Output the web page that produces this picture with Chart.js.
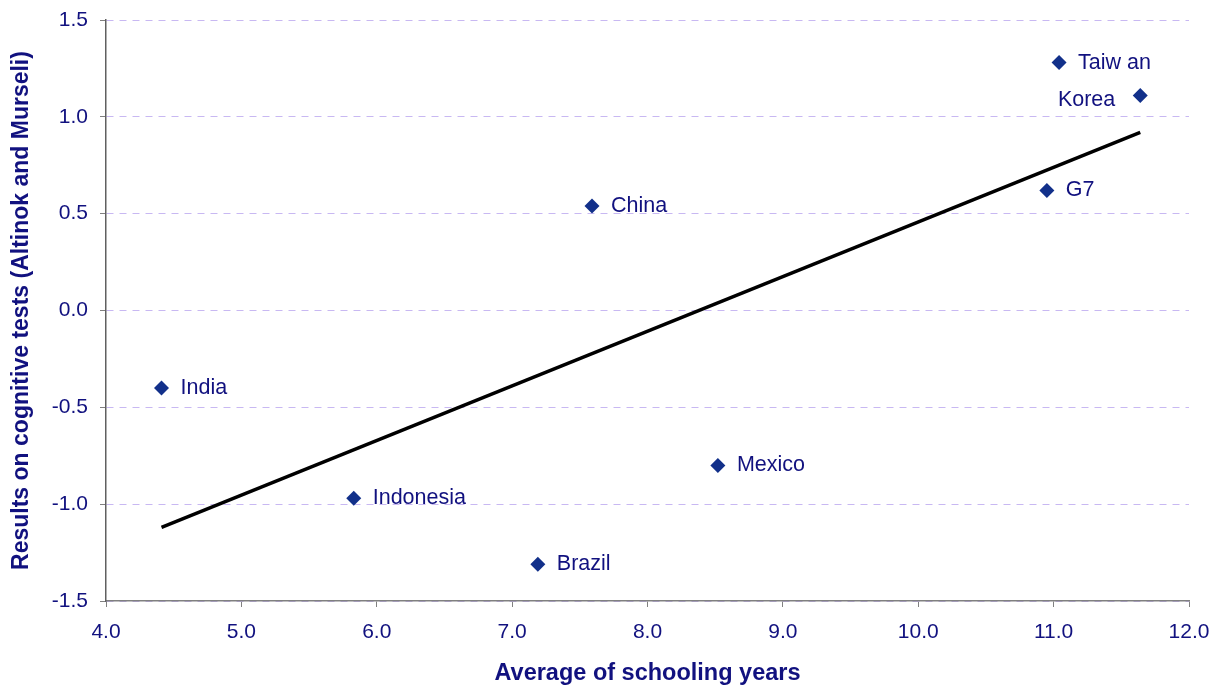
<!DOCTYPE html>
<html>
<head>
<meta charset="utf-8">
<script src="https://cdn.jsdelivr.net/npm/chart.js@4"></script>
<style>
  html, body { margin: 0; padding: 0; background: #fff; }
  canvas { display: block; }
</style>
</head>
<body>
<canvas id="scatterChart" width="1214" height="688"></canvas>
<script>
const countries = ['India', 'Indonesia', 'Brazil', 'China', 'Mexico', 'G7', 'Taiw an', 'Korea'];
const schoolingYears = [4.41, 5.83, 7.19, 7.59, 8.52, 10.95, 11.04, 11.64];
const testResults = [-0.40, -0.97, -1.31, 0.54, -0.80, 0.62, 1.28, 1.11];
const trendX = [4.41, 11.64];
const trendY = [-1.12, 0.92];

const navy = '#11117f';
const markerColor = '#12308a';
const font = 'Arial, "Liberation Sans", sans-serif';

// country names next to the markers, Korea sits on the left
const pointLabels = {
  id: 'pointLabels',
  afterDatasetsDraw(chart) {
    const ctx = chart.ctx;
    const meta = chart.getDatasetMeta(0);
    ctx.save();
    ctx.font = '21.5px ' + font;
    ctx.fillStyle = navy;
    ctx.textBaseline = 'middle';
    meta.data.forEach((pt, i) => {
      if (countries[i] === 'Korea') {
        ctx.textAlign = 'right';
        ctx.fillText(countries[i], pt.x - 25, pt.y + 5);
      } else {
        ctx.textAlign = 'left';
        ctx.fillText(countries[i], pt.x + 19, pt.y);
      }
    });
    ctx.restore();
  }
};

const ctx = document.getElementById('scatterChart').getContext('2d');

new Chart(ctx, {
  type: 'scatter',
  data: {
    datasets: [
      {
        data: schoolingYears.map((x, i) => ({ x: x, y: testResults[i] })),
        pointStyle: 'rectRot',
        pointRadius: 7.5,
        backgroundColor: markerColor,
        borderColor: markerColor,
        borderWidth: 0,
      },
      {
        type: 'line',
        data: trendX.map((x, i) => ({ x: x, y: trendY[i] })),
        borderColor: '#000',
        borderWidth: 3.5,
        pointRadius: 0,
        fill: false,
      },
    ],
  },
  options: {
    responsive: false,
    animation: false,
    layout: { padding: { top: 20, right: 25, left: 0, bottom: 0 } },
    plugins: {
      legend: { display: false },
      tooltip: { enabled: false },
    },
    scales: {
      x: {
        type: 'linear',
        min: 4,
        max: 12,
        afterFit(scale) {
          scale.height = 87;
          scale.paddingLeft = 0;
          scale.paddingRight = 0;
        },
        ticks: {
          stepSize: 1,
          color: navy,
          padding: 13,
          font: { family: font, size: 21 },
          callback: v => v.toFixed(1),
        },
        grid: {
          drawOnChartArea: false,
          tickLength: 6,
          tickColor: '#808080',
        },
        border: { color: '#808080', width: 1.5 },
        title: {
          display: true,
          text: 'Average of schooling years',
          color: navy,
          font: { family: font, size: 23.5, weight: 'bold' },
          padding: { top: 0, bottom: 0 },
        },
      },
      y: {
        min: -1.5,
        max: 1.5,
        afterFit(scale) {
          scale.width = 106;
          scale.paddingTop = 0;
          scale.paddingBottom = 0;
        },
        ticks: {
          stepSize: 0.5,
          color: navy,
          padding: 12,
          font: { family: font, size: 21 },
          callback: v => v.toFixed(1),
        },
        grid: {
          color: '#c8b8f2',
          lineWidth: 1,
          tickLength: 6,
          tickColor: '#808080',
        },
        border: { color: '#606060', width: 1.5, dash: [7, 6] },
        title: {
          display: true,
          text: 'Results on cognitive tests (Altinok and Murseli)',
          color: navy,
          font: { family: font, size: 23, weight: 'bold' },
          padding: { top: 8, bottom: 0 },
        },
      },
    },
  },
  plugins: [pointLabels],
});
</script>
</body>
</html>
